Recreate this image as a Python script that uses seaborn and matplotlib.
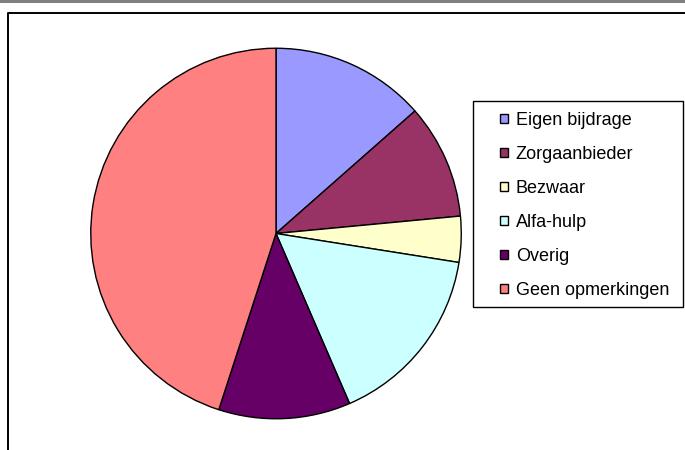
import matplotlib
matplotlib.use("Agg")
import matplotlib.pyplot as plt
from matplotlib.patches import Rectangle
from matplotlib.lines import Line2D
import seaborn as sns

# Data
categories = ["Eigen bijdrage", "Zorgaanbieder", "Bezwaar", "Alfa-hulp", "Overig", "Geen opmerkingen"]
counts = [27, 20, 8, 32, 23, 90]
colors = ["#9999FF", "#993366", "#FFFFCC", "#CCFFFF", "#660066", "#FF8080"]

sns.set_style("white")
plt.rcParams["font.family"] = ["Liberation Sans", "DejaVu Sans"]
plt.rcParams["text.color"] = "black"

W, H = 685, 450
f = plt.figure(figsize=(W / 100, H / 100), dpi=100)

# grey strip at the very top and the chart-area border
f.add_artist(Rectangle((0, 1 - 3 / H), 1, 3 / H, transform=f.transFigure,
                       facecolor="#808080", edgecolor="none"))
f.add_artist(Line2D([7.5 / W, 7.5 / W, 1], [0, 1 - 13 / H, 1 - 13 / H],
                    transform=f.transFigure, color="black", lw=1.4))

# pie axes: centre (276, 233.5), radius ~185 px
cx, cy, r = 276, 233.5, 185.25
ax = f.add_axes([(cx - r) / W, (H - cy - r) / H, 2 * r / W, 2 * r / H])
palette = sns.color_palette(colors)
wedges, _ = ax.pie(counts, colors=palette, startangle=90, counterclock=False,
                   wedgeprops=dict(edgecolor="black", linewidth=1))
ax.set_xlim(-1, 1)
ax.set_ylim(-1, 1)
ax.axis("off")

# legend box drawn by hand, entries placed inside
f.add_artist(Rectangle((473 / W, 1 - 307 / H), 210 / W, 206 / H, transform=f.transFigure,
                       facecolor="white", edgecolor="black", lw=1))
f.legend(wedges, categories, loc="upper left", bbox_to_anchor=(500 / W, 1 - 112 / H),
         frameon=False, fontsize=13, borderpad=0, borderaxespad=0,
         handlelength=0.45, handleheight=0.45, handletextpad=0.42, labelspacing=0.94)

f.savefig("out.png", dpi=100)
